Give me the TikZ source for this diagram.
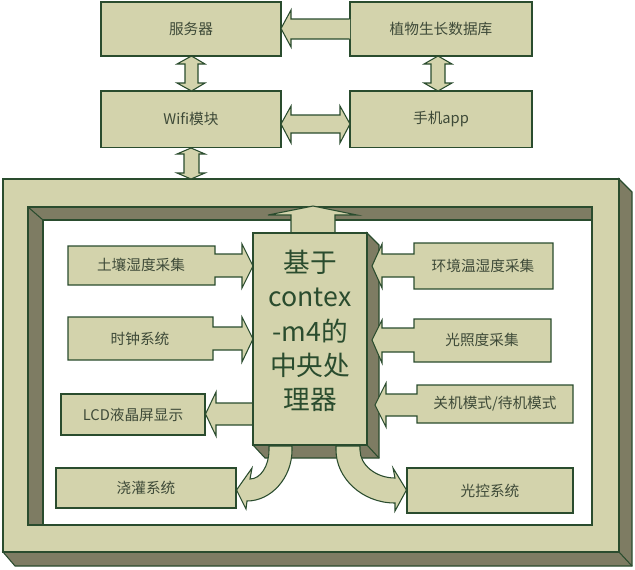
\documentclass[tikz,border=0pt]{standalone}
\usepackage{fontspec}
\setmainfont{Noto Sans CJK SC}
\definecolor{khakifill}{RGB}{211,211,172}
\definecolor{darkface}{RGB}{126,124,99}
\definecolor{lineg}{RGB}{42,76,46}
\definecolor{txtc}{RGB}{62,74,56}
\newcommand\lblfont{\fontsize{11}{13}\selectfont}
\newcommand\cpufont{\fontsize{20}{25.8}\selectfont}
\begin{document}
\begin{tikzpicture}[x=0.75pt,y=-0.75pt,
  shp/.style={fill=khakifill, draw=lineg, line width=0.8pt, line join=miter},
  dk/.style={fill=darkface, draw=lineg, line width=0.8pt},
  box/.style={shp, rectangle, inner sep=0pt, font=\lblfont, text=txtc},
  lbl/.style={inner sep=0pt, font=\lblfont, text=txtc}]
\useasboundingbox (0,0) rectangle (635,569);

% ---------- outer 3D frame ----------
\draw[dk] (3,552) -- (15,566) -- (632,566) -- (632,192) -- (619,179) -- (619,552) -- cycle;
\draw[lineg, line width=0.8pt] (619,552) -- (632,566);
\path[shp, even odd rule] (3,179) rectangle (619,552) (28,207) rectangle (592,525);
\draw[dk] (28,207) -- (592,207) -- (592,220) -- (43,220) -- (43,525) -- (28,525) -- cycle;
\draw[lineg, line width=0.8pt] (28,207) -- (43,220);

% ---------- top boxes ----------
\node[box, minimum width=135pt, minimum height=40.5pt] (srv) at (191,29) {服务器};
\node[box, minimum width=136.5pt, minimum height=40.5pt] (db) at (441,29) {植物生长数据库};
\node[box, minimum width=135pt, minimum height=42.4pt] (wifi) at (191,119.25) {Wifi模块};
\node[box, minimum width=136.5pt, minimum height=42.4pt] (app) at (441,119.25) {手机app};

% ---------- top block arrows ----------
\fill[khakifill] (350,19) -- (291,19) -- (291,10) -- (281,28.5) -- (291,47) -- (291,39) -- (350,39) -- cycle;
\draw[lineg, line width=0.8pt] (349.5,19) -- (291,19) -- (291,10) -- (281,28.5) -- (291,47) -- (291,39) -- (349.5,39);
\draw[shp] (191.5,56) -- (205,64) -- (198,64) -- (198,83) -- (205,83) -- (191.5,91) -- (177,83) -- (185,83) -- (185,64) -- (177,64) -- cycle;
\draw[shp] (438,56) -- (452,64) -- (445,64) -- (445,83) -- (452,83) -- (438,91) -- (424,83) -- (431,83) -- (431,64) -- (424,64) -- cycle;
\draw[shp] (281,124) -- (291,106) -- (291,115) -- (340,115) -- (340,106) -- (350,124) -- (340,143) -- (340,133) -- (291,133) -- (291,143) -- cycle;
\draw[shp] (191,148) -- (205,154) -- (199,154) -- (199,173) -- (205,173) -- (191,179) -- (177,173) -- (184,173) -- (184,154) -- (177,154) -- cycle;

% ---------- arrow from CPU up to frame ----------
\fill[khakifill] (291,234) -- (291,215) -- (268,215) -- (313,206) -- (357,215) -- (335,215) -- (335,234) -- cycle;
\draw[lineg, line width=0.8pt] (291,233) -- (291,215) -- (268,215) -- (313,206) -- (357,215) -- (335,215) -- (335,233);

% ---------- left inputs ----------
\draw[shp] (68,246) -- (215,246) -- (215,254) -- (242,254) -- (242,244) -- (253,266) -- (242,288) -- (242,277) -- (215,277) -- (215,285) -- (68,285) -- cycle;
\node[lbl] (soil) at (141,265) {土壤湿度采集};
\draw[shp] (68,317) -- (213,317) -- (213,327) -- (242,327) -- (242,317) -- (253,339) -- (242,362) -- (242,350) -- (213,350) -- (213,360) -- (68,360) -- cycle;
\node[lbl] (clk) at (140,338.5) {时钟系统};

% ---------- LCD ----------
\node[box, minimum width=108pt, minimum height=30.75pt] (lcd) at (133,414.5) {LCD液晶屏显示};
\draw[shp] (254,403) -- (216,403) -- (216,392) -- (lcd.east |- 0,414) -- (216,436) -- (216,425) -- (254,425) -- cycle;

% ---------- CPU ----------
\draw[dk] (367,233) -- (379,245) -- (379,458) -- (265,458) -- (253,445) -- (367,445) -- cycle;
\draw[lineg, line width=0.8pt] (367,445) -- (379,458);
\node[box, minimum width=85.5pt, minimum height=159pt] (cpu) at (310,339) {};
\node[inner sep=0pt, align=center, font=\cpufont, text=lineg] (cputxt) at (310,331) {基于\\contex\\-m4的\\中央处\\理器};

% ---------- right inputs ----------
\draw[shp] (553,243) -- (414,243) -- (414,254) -- (382,254) -- (382,244) -- (372,266) -- (382,288) -- (382,277) -- (414,277) -- (414,289) -- (553,289) -- cycle;
\node[lbl] (env) at (483,265.5) {环境温湿度采集};
\draw[shp] (551,319) -- (414,319) -- (414,328) -- (382,328) -- (382,320) -- (372,340) -- (382,363) -- (382,352) -- (414,352) -- (414,362) -- (551,362) -- cycle;
\node[lbl] (light) at (482,339.5) {光照度采集};
\draw[shp] (573,385) -- (417,385) -- (417,394) -- (386,394) -- (386,383) -- (375,405) -- (386,427) -- (386,416) -- (417,416) -- (417,423) -- (573,423) -- cycle;
\node[lbl] (mode) at (495,403.5) {关机模式/待机模式};

% ---------- outputs ----------
\node[box, minimum width=135pt, minimum height=30pt] (water) at (146,488) {浇灌系统};
\node[box, minimum width=124.5pt, minimum height=33.75pt] (lctl) at (490,490.5) {光控系统};

\draw[shp] (269,446) -- (269,450) .. controls (269,466) and (260.5,479) .. (250,479)
  -- (252,468) -- (water.east |- 0,490) -- (246,509) -- (247,501)
  .. controls (271,501) and (292,478) .. (292,450) -- (292,446) -- cycle;
\draw[shp] (360,446) -- (360,450) .. controls (360,465) and (376,478) .. (395,478)
  -- (393,468) -- (lctl.west |- 0,490) -- (395,511) -- (395,503)
  .. controls (362,503) and (336,478) .. (336,450) -- (336,446) -- cycle;
\end{tikzpicture}
\end{document}
